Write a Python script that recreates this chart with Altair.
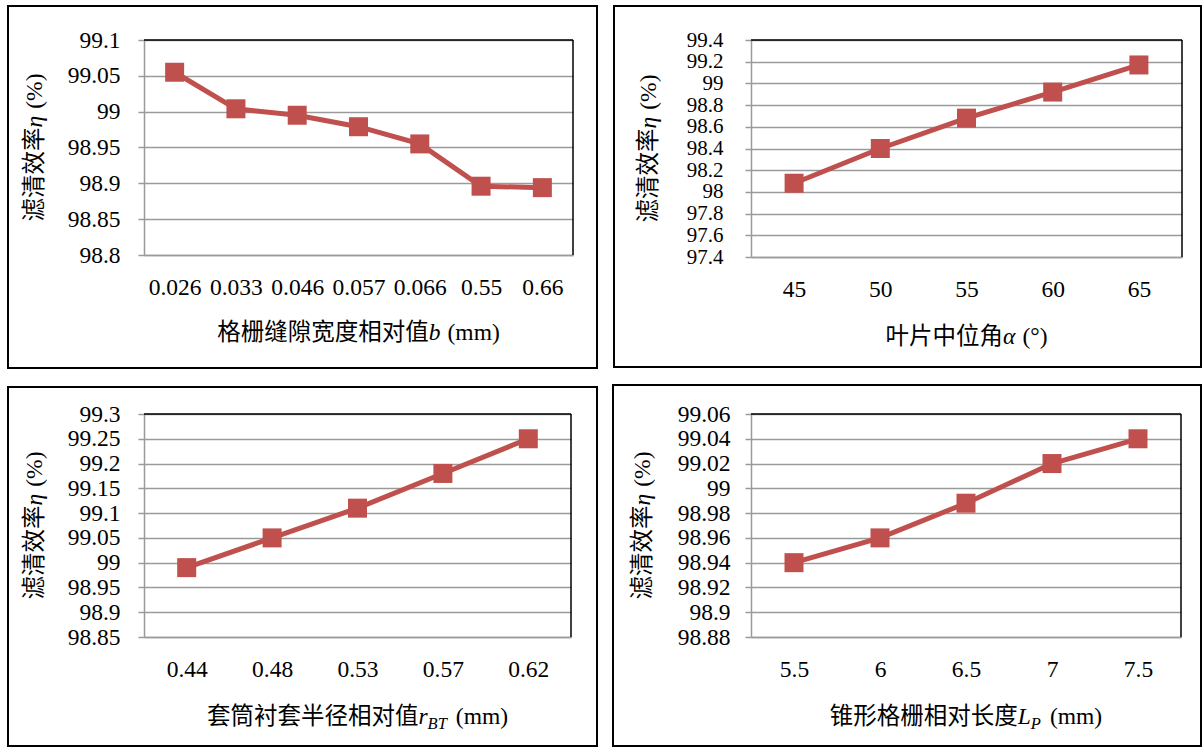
import altair as alt
import pandas as pd

# ---------------- data ----------------
gap_width = ["0.026", "0.033", "0.046", "0.057", "0.066", "0.55", "0.66"]
eff_gap = [99.055, 99.004, 98.995, 98.979, 98.955, 98.896, 98.894]
gap_ticks = [98.8, 98.85, 98.9, 98.95, 99.0, 99.05, 99.1]

blade_angle = ["45", "50", "55", "60", "65"]
eff_angle = [98.08, 98.40, 98.68, 98.92, 99.17]
angle_ticks = [97.4, 97.6, 97.8, 98.0, 98.2, 98.4, 98.6, 98.8, 99.0, 99.2, 99.4]

sleeve_radius = ["0.44", "0.48", "0.53", "0.57", "0.62"]
eff_radius = [98.99, 99.05, 99.11, 99.18, 99.25]
radius_ticks = [98.85, 98.9, 98.95, 99.0, 99.05, 99.1, 99.15, 99.2, 99.25, 99.3]

cone_length = ["5.5", "6", "6.5", "7", "7.5"]
eff_length = [98.94, 98.96, 98.988, 99.02, 99.04]
length_ticks = [98.88, 98.9, 98.92, 98.94, 98.96, 98.98, 99.0, 99.02, 99.04, 99.06]

# ---------------- styling ----------------
SERIF = "Liberation Serif"
CJK = "Noto Sans CJK SC"
FS = 23.5
SUB_FS = 16.5
RED = "#C0504D"
GRID = "#9A9A9A"

# advance widths (em) used to lay out the composite axis titles
NORMAL_W = {"(": 0.333, ")": 0.333, "m": 0.778, "%": 0.833, "°": 0.4}
ITALIC_W = {"b": 0.5, "η": 0.5, "α": 0.53, "r": 0.389, "L": 0.556,
            "B": 0.611, "T": 0.556, "P": 0.611}
GAP = 0.3  # word space before the unit, em


def piece_width(text, kind):
    if kind == "gap":
        return GAP * FS
    if kind == "cjk":
        return len(text) * FS
    if kind == "sub":
        return sum(ITALIC_W[c] for c in text) * SUB_FS + 2
    table = ITALIC_W if kind == "italic" else NORMAL_W
    return sum(table[c] for c in text) * FS


def piece_mark(text, kind, x, y, angle=0):
    one = pd.DataFrame({"k": [0]})
    props = dict(text=text, align="left", baseline="middle", color="black",
                 fontSize=SUB_FS if kind == "sub" else FS,
                 font=CJK if kind == "cjk" else SERIF)
    if kind in ("italic", "sub"):
        props["fontStyle"] = "italic"
    if angle:
        props["angle"] = angle
    return alt.Chart(one).mark_text(**props).encode(x=alt.value(x), y=alt.value(y))


def x_title(parts, w, y):
    total = sum(piece_width(t, k) for t, k in parts)
    x = w / 2 - total / 2
    marks = []
    for t, k in parts:
        if k != "gap":
            marks.append(piece_mark(t, k, x, y + (7 if k == "sub" else 0)))
        x += piece_width(t, k)
    return marks


def y_title(parts, h, x):
    total = sum(piece_width(t, k) for t, k in parts)
    y = h / 2 + total / 2
    marks = []
    for t, k in parts:
        if k != "gap":
            marks.append(piece_mark(t, k, x, y, angle=270))
        y -= piece_width(t, k)
    return marks


Y_PARTS = [("滤清效率", "cjk"), ("η", "italic"), ("", "gap"), ("(%)", "normal")]


def panel(cats, vals, ticks, w, h, label_pad, frame, ytitle_x, xtitle_y, xparts,
          ylabel_fs=FS):
    df = pd.DataFrame({"cat": cats, "eff": vals})
    base = alt.Chart(df).encode(
        x=alt.X("cat:O", sort=cats, title=None,
                axis=alt.Axis(labelAngle=0, ticks=False, grid=False,
                              domainColor=GRID, domainWidth=1.5,
                              labelFont=SERIF, labelFontSize=FS, labelColor="black",
                              labelPadding=20, labelOverlap=False)),
        y=alt.Y("eff:Q", title=None,
                scale=alt.Scale(domain=[ticks[0], ticks[-1]], nice=False, zero=False),
                axis=alt.Axis(values=ticks, format="~g", grid=True, gridColor=GRID,
                              gridWidth=1.5, domainColor=GRID, domainWidth=1.5,
                              tickColor=GRID, tickWidth=1.5, tickSize=6,
                              labelFont=SERIF, labelFontSize=ylabel_fs, labelColor="black",
                              labelPadding=label_pad, labelOverlap=False)),
    )
    line = base.mark_line(color=RED, strokeWidth=5)
    pts = base.mark_point(shape="square", filled=True, size=361, color=RED, opacity=1)

    one = pd.DataFrame({"k": [0]})
    fx1, fx2, fy1, fy2 = frame
    box = alt.Chart(one).mark_rect(filled=False, stroke="black", strokeWidth=2).encode(
        x=alt.value(fx1), x2=alt.value(fx2), y=alt.value(fy1), y2=alt.value(fy2))
    top = alt.Chart(one).mark_rule(color="black", strokeWidth=1.5).encode(
        x=alt.value(0), x2=alt.value(w), y=alt.value(0))
    right = alt.Chart(one).mark_rule(color="black", strokeWidth=1.5).encode(
        x=alt.value(w), y=alt.value(0), y2=alt.value(h))

    layers = [box, top, right, line, pts]
    layers += x_title(xparts, w, xtitle_y)
    layers += y_title(Y_PARTS, h, ytitle_x)
    return alt.layer(*layers).properties(width=w, height=h)


MM = ("(mm)", "normal")
SP = ("", "gap")

p1 = panel(gap_width, eff_gap, gap_ticks, 429, 215, 18, (-136, 453, -34, 328), -109, 293,
           [("格栅缝隙宽度相对值", "cjk"), ("b", "italic"), SP, MM])
p2 = panel(blade_angle, eff_angle, angle_ticks, 431, 217, 22, (-137, 450, -34, 327), -102, 297,
           [("叶片中位角", "cjk"), ("α", "italic"), SP, ("(°)", "normal")], ylabel_fs=21)
p3 = panel(sleeve_radius, eff_radius, radius_ticks, 427, 223, 18, (-136, 453, -27, 332), -109, 303,
           [("套筒衬套半径相对值", "cjk"), ("r", "italic"), ("BT", "sub"), SP, MM])
p4 = panel(cone_length, eff_length, length_ticks, 430, 223, 15, (-138, 450, -29, 332), -108, 303,
           [("锥形格栅相对长度", "cjk"), ("L", "italic"), ("P", "sub"), SP, MM])

chart = alt.concat(
    p1, p2, p3, p4, columns=2, bounds="flush", align="each",
    spacing={"row": 157, "column": 178},
).properties(
    padding={"left": 7, "top": 5, "right": 0, "bottom": 0},
    background="white",
).configure(font=SERIF).configure_view(strokeOpacity=0)

chart.save("out.html", embed_options={"renderer": "svg", "actions": False})
